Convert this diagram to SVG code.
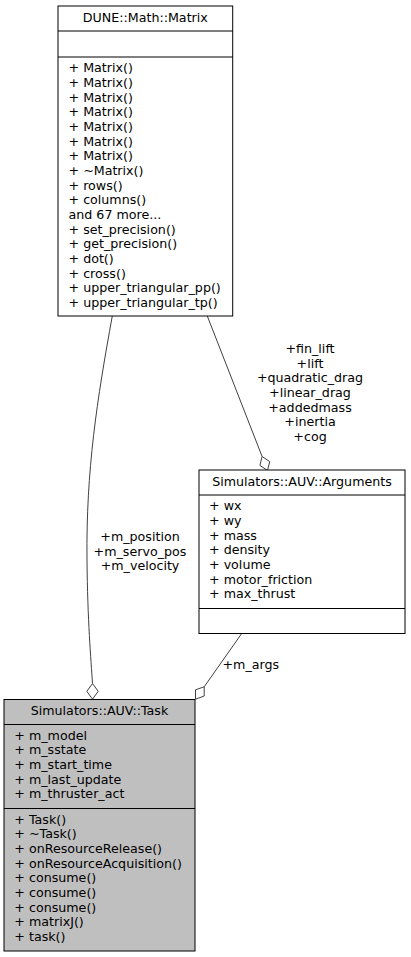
<svg xmlns="http://www.w3.org/2000/svg" width="411" height="957" viewBox="0 0 411 957">
<style>
.bg{fill:#ffffff}
.box{fill:#ffffff;stroke:#000000;stroke-width:1}
.cur{fill:#bfbfbf;stroke:#000000;stroke-width:1}
.sep{stroke:#000000;stroke-width:1}
.edge{fill:none;stroke:#404040;stroke-width:1}
.dia{fill:#ffffff;stroke:#404040;stroke-width:1}
.t{font-family:"DejaVu Sans","Bitstream Vera Sans",sans-serif;font-size:12.67px;fill:#000000}
.m{text-anchor:middle}
</style>
<rect class="bg" x="0" y="0" width="411" height="957"/>
<g id="connectors">
<path class="edge" d="M112.3,316 C97,400 86,470 87,560 C87.5,620 91,660 92.5,683.5"/>
<polygon class="dia" points="92.5,683.5 98.2,691.3 92.5,699.2 86.8,691.3"/>
<path class="edge" d="M207.3,316 L262.1,456.5"/>
<polygon class="dia" points="262.1,456.5 269.7,461.6 267.5,470.5 259.9,465.4"/>
<path class="edge" d="M241.7,633.5 L204.2,686.8"/>
<polygon class="dia" points="204.2,686.8 204.2,696 195.5,699.2 195.5,689.8"/>
<text class="t m"><tspan x="140" y="541">+m_position</tspan><tspan x="140" dy="14.67">+m_servo_pos</tspan><tspan x="140" dy="14.67">+m_velocity</tspan></text>
<text class="t m"><tspan x="310" y="353">+fin_lift</tspan><tspan x="310" dy="14.67">+lift</tspan><tspan x="310" dy="14.67">+quadratic_drag</tspan><tspan x="310" dy="14.67">+linear_drag</tspan><tspan x="310" dy="14.67">+addedmass</tspan><tspan x="310" dy="14.67">+inertia</tspan><tspan x="310" dy="14.67">+cog</tspan></text>
<text class="t" x="222.5" y="669.3">+m_args</text>
</g>
<g id="node-matrix">
<rect class="box" x="58" y="6" width="174.7" height="310"/>
<line class="sep" x1="58" y1="31" x2="232.7" y2="31"/>
<line class="sep" x1="58" y1="57" x2="232.7" y2="57"/>
<text class="t m" x="145.3" y="21.7">DUNE::Math::Matrix</text>
<text class="t"><tspan x="68.5" y="72.3">+ Matrix()</tspan><tspan x="68.5" dy="14.67">+ Matrix()</tspan><tspan x="68.5" dy="14.67">+ Matrix()</tspan><tspan x="68.5" dy="14.67">+ Matrix()</tspan><tspan x="68.5" dy="14.67">+ Matrix()</tspan><tspan x="68.5" dy="14.67">+ Matrix()</tspan><tspan x="68.5" dy="14.67">+ Matrix()</tspan><tspan x="68.5" dy="14.67">+ ~Matrix()</tspan><tspan x="68.5" dy="14.67">+ rows()</tspan><tspan x="68.5" dy="14.67">+ columns()</tspan><tspan x="68.5" dy="14.67">and 67 more...</tspan><tspan x="68.5" dy="14.67">+ set_precision()</tspan><tspan x="68.5" dy="14.67">+ get_precision()</tspan><tspan x="68.5" dy="14.67">+ dot()</tspan><tspan x="68.5" dy="14.67">+ cross()</tspan><tspan x="68.5" dy="14.67">+ upper_triangular_pp()</tspan><tspan x="68.5" dy="14.67">+ upper_triangular_tp()</tspan></text>
</g>
<g id="node-arguments">
<rect class="box" x="199" y="470" width="206" height="163.5"/>
<line class="sep" x1="199" y1="495" x2="405" y2="495"/>
<line class="sep" x1="199" y1="608.5" x2="405" y2="608.5"/>
<text class="t m" x="302" y="485.7">Simulators::AUV::Arguments</text>
<text class="t"><tspan x="209" y="510.3">+ wx</tspan><tspan x="209" dy="14.67">+ wy</tspan><tspan x="209" dy="14.67">+ mass</tspan><tspan x="209" dy="14.67">+ density</tspan><tspan x="209" dy="14.67">+ volume</tspan><tspan x="209" dy="14.67">+ motor_friction</tspan><tspan x="209" dy="14.67">+ max_thrust</tspan></text>
</g>
<g id="node-task">
<rect class="cur" x="4" y="699.5" width="191" height="251.5"/>
<line class="sep" x1="4" y1="724.5" x2="195" y2="724.5"/>
<line class="sep" x1="4" y1="808.5" x2="195" y2="808.5"/>
<text class="t m" x="99.5" y="715">Simulators::AUV::Task</text>
<text class="t"><tspan x="14.3" y="739.8">+ m_model</tspan><tspan x="14.3" dy="14.67">+ m_sstate</tspan><tspan x="14.3" dy="14.67">+ m_start_time</tspan><tspan x="14.3" dy="14.67">+ m_last_update</tspan><tspan x="14.3" dy="14.67">+ m_thruster_act</tspan></text>
<text class="t"><tspan x="14.3" y="823.8">+ Task()</tspan><tspan x="14.3" dy="14.67">+ ~Task()</tspan><tspan x="14.3" dy="14.67">+ onResourceRelease()</tspan><tspan x="14.3" dy="14.67">+ onResourceAcquisition()</tspan><tspan x="14.3" dy="14.67">+ consume()</tspan><tspan x="14.3" dy="14.67">+ consume()</tspan><tspan x="14.3" dy="14.67">+ consume()</tspan><tspan x="14.3" dy="14.67">+ matrixJ()</tspan><tspan x="14.3" dy="14.67">+ task()</tspan></text>
</g>
</svg>
